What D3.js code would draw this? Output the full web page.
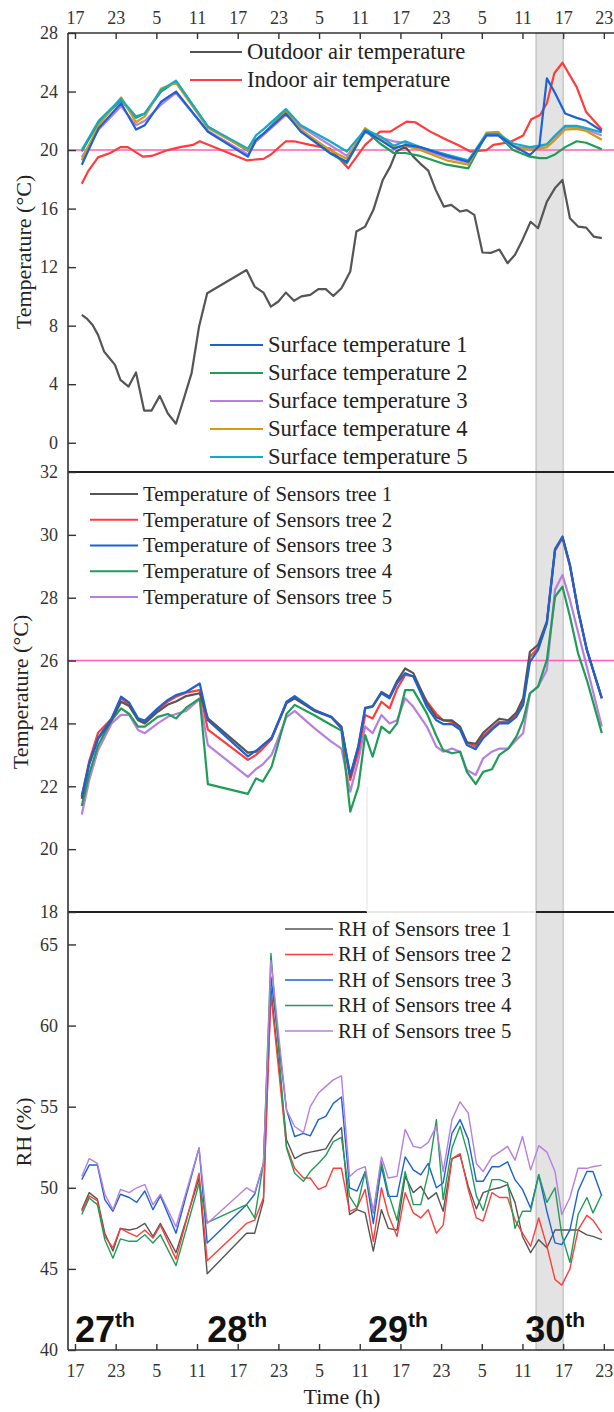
<!DOCTYPE html>
<html>
<head>
<meta charset="utf-8">
<script src="https://cdn.jsdelivr.net/npm/d3@7"></script>
<style>
  body { margin: 0; background: #fff; }
  svg { display: block; }
  text { font-family: "Liberation Serif", "Times New Roman", serif; fill: #222; }
  text.day { font-family: "Liberation Sans", Arial, sans-serif; font-weight: bold; fill: #111; }
</style>
</head>
<body>
<div id="plot"></div>
<script>
// time is counted in hours from 17:00 on the 27th
var hourTicks = [0, 6, 12, 18, 24, 30, 36, 42, 48, 54, 60, 66, 72, 78];
var hourLabels = ["17", "23", "5", "11", "17", "23", "5", "11", "17", "23", "5", "11", "17", "23"];
var shadeHours = [68, 72];
var dayHours = [0, 19.5, 43.2, 66.4];
var dayNames = ["27", "28", "29", "30"];

var tempTicks = [0, 4, 8, 12, 16, 20, 24, 28];
var treeTicks = [18, 20, 22, 24, 26, 28, 30, 32];
var rhTicks = [40, 45, 50, 55, 60, 65];
var airLimit = 20;
var treeLimit = 26;

// panel 1: air temperatures
var airNames = ["Outdoor air temperature", "Indoor air temperature"];
var outdoorHours = [1, 1.8, 2.6, 3.4, 4.3, 5.1, 5.9, 6.7, 7.9, 9, 10.2, 11.3, 12.5, 13.7, 14.9, 16, 17.2, 18.3, 19.5, 25.3,
  26.5, 27.8, 28.9, 30, 31.1, 32.3, 33.4, 34.7, 35.9, 37, 38.1, 39.3, 40.6, 41.5, 42.8, 44, 45.4, 46.5, 47.4, 48.7,
  49.9, 51.1, 52.1, 53.2, 54.4, 55.5, 56.8, 57.8, 58.9, 60.1, 61.3, 62.6, 63.8, 64.9, 66, 67.2, 68.3, 69.6, 70.8, 71.9,
  73, 74.2, 75.4, 76.5, 77.7];
var outdoor = [8.74, 8.46, 8.05, 7.37, 6.23, 5.77, 5.32, 4.3, 3.84, 4.8, 2.2, 2.2, 3.2, 2.0, 1.3, 2.93, 4.76, 7.94, 10.22, 11.8,
  10.67, 10.26, 9.3, 9.65, 10.26, 9.7, 10.0, 10.1, 10.5, 10.5, 10.03, 10.56, 11.7, 14.43, 14.77, 15.9, 17.96, 18.87, 19.9, 20.23,
  19.55, 19.0, 18.6, 17.28, 16.14, 16.25, 15.8, 15.9, 15.57, 13.0, 12.97, 13.2, 12.27, 12.84, 13.86, 15.1, 14.66, 16.48, 17.4, 17.96,
  15.34, 14.77, 14.7, 14.09, 13.98];
var indoorHours = [1, 2, 3.4, 5.2, 6.7, 7.8, 10, 11.3, 13.7, 15.5, 17.4, 18.4, 19.5, 25.3, 27.8, 28.9, 31.1, 32.3, 34.7, 37.6,
  40.3, 42.8, 45, 46.5, 48.9, 50.2, 52.4, 54.8, 56.5, 58.3, 60.7, 61.7, 64.2, 66.1, 67.3, 68.6, 69.6, 70.7, 71.9, 74,
  75.4, 77.7];
var indoor = [17.7, 18.6, 19.5, 19.8, 20.2, 20.2, 19.55, 19.6, 20.0, 20.2, 20.35, 20.6, 20.4, 19.3, 19.4, 19.7, 20.6, 20.6, 20.35, 20.1,
  18.75, 20.35, 21.26, 21.26, 21.94, 21.9, 21.26, 20.7, 20.35, 19.9, 20.0, 20.35, 20.55, 21.0, 22.1, 22.4, 23.2, 25.25, 25.97, 24.3,
  22.6, 21.4];

// panel 1: surface temperatures
var surfNames = ["Surface temperature 1", "Surface temperature 2", "Surface temperature 3", "Surface temperature 4", "Surface temperature 5"];
var surfHours = [1, 3.5, 6.8, 9, 10.3, 12.7, 14.9, 19.6, 25.5, 26.7, 28, 31.1, 33.3, 37.6, 40.1, 42.8, 45, 47, 48.7, 50.9,
  54.8, 58, 60.7, 62.4, 64.6, 67.1, 68.5, 69.6, 70.8, 72.3, 74, 75.4, 77.7];
var surf1 = [19.0, 21.5, 23.2, 21.4, 21.7, 23.3, 24.0, 21.25, 19.55, 20.7, 21.2, 22.5, 21.26, 19.8, 19.2, 21.3, 20.7, 20.1, 20.35, 20.2,
  19.6, 19.2, 21.0, 21.0, 20.3, 19.66, 20.3, 24.9, 23.9, 22.5, 22.2, 22.0, 21.3];
var surf2 = [19.9, 21.9, 23.4, 22.2, 22.5, 24.0, 24.7, 21.6, 19.95, 20.7, 21.2, 22.7, 21.4, 19.8, 19.1, 21.35, 20.45, 19.8, 19.8, 19.6,
  19.0, 18.75, 21.1, 21.05, 20.0, 19.55, 19.45, 19.45, 19.7, 20.2, 20.6, 20.5, 20.05];
var surf3 = [19.5, 21.4, 23.0, 21.7, 22.0, 23.1, 23.9, 21.3, 19.7, 20.6, 21.1, 22.4, 21.6, 20.35, 19.6, 21.2, 20.85, 20.6, 20.5, 20.1,
  19.5, 19.15, 21.0, 21.0, 20.25, 20.1, 20.2, 20.4, 20.9, 21.55, 21.55, 21.4, 21.0];
var surf4 = [19.3, 21.7, 23.6, 21.9, 22.3, 24.2, 24.6, 21.5, 20.0, 20.7, 21.2, 22.6, 21.4, 20.0, 19.4, 21.5, 20.75, 20.2, 20.3, 20.0,
  19.3, 19.0, 21.2, 21.25, 20.25, 20.0, 20.1, 20.2, 20.7, 21.4, 21.45, 21.3, 20.7];
var surf5 = [20.0, 22.0, 23.5, 22.3, 22.5, 24.1, 24.75, 21.6, 20.1, 21.0, 21.5, 22.8, 21.7, 20.6, 19.9, 21.4, 20.95, 20.3, 20.6, 20.2,
  19.7, 19.3, 21.1, 21.1, 20.45, 20.2, 20.3, 20.4, 21.0, 21.65, 21.65, 21.5, 21.2];

// panel 2: sensor tree temperatures
var treeNames = ["Temperature of Sensors tree 1", "Temperature of Sensors tree 2", "Temperature of Sensors tree 3",
  "Temperature of Sensors tree 4", "Temperature of Sensors tree 5"];
var treeHours = [1, 2.1, 3.4, 5.4, 6.8, 8.0, 9.3, 10.3, 12.2, 13.7, 14.9, 16.4, 18.4, 19.6, 25.5, 26.7, 27.7, 29, 31.2, 32.4,
  35.3, 37.8, 39.3, 40.6, 41.8, 42.8, 43.9, 45.2, 46.4, 47.5, 48.7, 49.9, 51.9, 53.3, 54.3, 55.6, 56.8, 57.8, 59.1, 60.2,
  61.5, 62.6, 63.9, 65.1, 66.1, 67.1, 68.3, 69.6, 70.8, 71.9, 73.0, 74.2, 75.5, 77.7];
var tree1 = [21.6, 22.7, 23.5, 24.1, 24.69, 24.55, 24.1, 24.0, 24.37, 24.6, 24.7, 24.87, 24.96, 24.16, 23.07, 23.1, 23.3, 23.55, 24.65, 24.8,
  24.4, 24.2, 23.9, 22.3, 23.3, 24.5, 24.55, 25.0, 24.85, 25.35, 25.75, 25.6, 24.65, 24.2, 24.1, 24.1, 23.9, 23.4, 23.35, 23.7,
  23.95, 24.15, 24.1, 24.35, 24.8, 26.28, 26.5, 27.25, 29.55, 29.94, 29.04, 27.6, 26.34, 24.8];
var tree2 = [21.65, 22.8, 23.7, 24.15, 24.8, 24.6, 24.15, 24.05, 24.42, 24.7, 24.85, 24.98, 25.06, 23.8, 22.84, 23.0, 23.2, 23.5, 24.65, 24.8,
  24.43, 24.2, 23.85, 22.2, 23.1, 24.27, 24.16, 24.69, 24.48, 25.1, 25.54, 25.5, 24.7, 24.3, 24.1, 24.05, 23.85, 23.39, 23.26, 23.6,
  23.85, 24.05, 24.05, 24.3, 24.65, 26.12, 26.4, 27.2, 29.5, 29.9, 29.0, 27.6, 26.34, 24.8];
var tree3 = [21.7, 22.73, 23.53, 24.16, 24.85, 24.66, 24.16, 24.09, 24.48, 24.75, 24.9, 25.0, 25.27, 24.1, 22.95, 23.13, 23.3, 23.53, 24.69, 24.87,
  24.43, 24.21, 23.85, 22.36, 23.26, 24.48, 24.53, 24.96, 24.8, 25.28, 25.6, 25.49, 24.53, 24.1, 23.98, 23.98, 23.8, 23.31, 23.18, 23.53,
  23.8, 24.0, 24.0, 24.21, 24.59, 25.96, 26.34, 27.19, 29.52, 29.94, 29.04, 27.6, 26.34, 24.8];
var tree4 = [21.37, 22.4, 23.3, 24.1, 24.48, 24.3, 23.9, 23.9, 24.21, 24.3, 24.16, 24.5, 24.8, 22.07, 21.76, 22.25, 22.15, 22.62, 24.3, 24.59,
  24.26, 23.95, 23.77, 21.19, 21.99, 23.63, 22.94, 23.9, 23.69, 24.0, 25.06, 25.06, 24.32, 23.6, 23.15, 23.05, 23.1, 22.46, 22.07, 22.46,
  22.54, 23.0, 23.2, 23.58, 24.1, 24.96, 25.17, 26.02, 28.03, 28.35, 27.4, 26.23, 25.38, 23.69];
var tree5 = [21.1, 22.2, 23.15, 24.0, 24.27, 24.27, 23.79, 23.69, 24.0, 24.21, 24.3, 24.4, 24.77, 23.31, 22.3, 22.55, 22.7, 23.0, 24.2, 24.4,
  23.85, 23.42, 23.2, 21.83, 22.84, 23.9, 23.69, 24.27, 24.0, 24.1, 24.8, 24.53, 23.9, 23.26, 23.1, 23.2, 23.1, 22.52, 22.36, 22.89,
  23.1, 23.2, 23.2, 23.47, 23.69, 24.96, 25.17, 25.7, 28.25, 28.72, 27.93, 26.9, 25.8, 23.9];

// panel 3: relative humidity
var rhNames = ["RH of Sensors tree 1", "RH of Sensors tree 2", "RH of Sensors tree 3", "RH of Sensors tree 4", "RH of Sensors tree 5"];
var rhHours = [1, 2.1, 3.3, 4.4, 5.6, 6.7, 8.0, 9.1, 10.3, 11.5, 12.6, 14.9, 18.3, 19.5, 25.3, 26.5, 27.8, 28.9, 31.2, 32.4,
  33.7, 34.7, 35.9, 37.0, 38.1, 39.3, 40.5, 41.6, 42.8, 44, 45.2, 46.2, 47.5, 48.7, 49.9, 51.0, 52.1, 53.3, 54.3, 55.6,
  56.8, 58, 59.2, 60.2, 61.5, 62.6, 63.8, 64.9, 66.0, 67.2, 68.4, 69.6, 70.8, 71.8, 73, 74.2, 75.5, 76.4, 77.7];
var rh1 = [48.65, 49.7, 49.3, 47.2, 46.1, 47.5, 47.4, 47.5, 47.8, 47.0, 47.8, 46.0, 50.6, 44.7, 47.2, 47.2, 49.2, 62.3, 52.96, 51.8,
  52.1, 52.2, 52.3, 52.4, 53.16, 53.7, 48.35, 48.65, 48.45, 46.1, 48.65, 47.5, 47.4, 50.7, 49.7, 50.1, 49.3, 49.7, 48.55, 51.8,
  52.0, 50.1, 48.7, 49.7, 49.9, 50.0, 50.2, 49.1, 47.0, 46.0, 46.8, 46.3, 47.4, 47.4, 47.4, 47.4, 47.1, 47.0, 46.8];
var rh2 = [48.55, 49.5, 49.2, 47.0, 46.3, 47.5, 47.2, 47.0, 47.4, 46.9, 47.7, 45.6, 50.9, 45.5, 47.8, 48.0, 49.37, 61.9, 52.55, 51.2,
  50.6, 50.6, 49.9, 50.1, 51.2, 51.2, 48.55, 48.75, 49.9, 46.7, 50.0, 48.35, 47.0, 49.7, 48.45, 48.14, 48.65, 47.2, 47.7, 51.8,
  52.1, 49.9, 48.14, 47.95, 49.7, 49.4, 49.4, 48.0, 47.2, 46.4, 48.14, 46.4, 44.35, 44.0, 45.0, 47.4, 48.3, 48.0, 47.2];
var rh3 = [50.5, 51.4, 51.4, 49.27, 48.55, 49.6, 49.4, 49.1, 49.8, 48.65, 49.5, 47.2, 52.45, 46.6, 48.96, 49.6, 51.5, 63.0, 54.8, 53.16,
  53.35, 53.2, 54.2, 54.4, 55.2, 55.6, 50.0, 49.8, 51.0, 47.8, 51.3, 49.47, 49.47, 51.9, 51.1, 50.8, 51.5, 50.0, 50.3, 53.35,
  54.2, 53.0, 50.4, 50.4, 51.3, 51.3, 51.6, 50.5, 49.9, 48.75, 50.8, 48.55, 46.6, 46.5, 47.4, 49.8, 51.0, 51.0, 49.5];
var rh4 = [48.35, 49.37, 48.96, 46.8, 45.66, 46.85, 46.7, 46.7, 47.1, 46.6, 47.1, 45.2, 50.26, 47.85, 48.96, 48.14, 51.5, 64.45, 52.45, 50.9,
  50.4, 51.0, 51.5, 52.0, 52.85, 53.1, 49.47, 48.75, 51.0, 48.45, 51.6, 49.7, 48.0, 51.0, 48.96, 48.96, 50.9, 54.2, 49.27, 52.45,
  53.8, 52.0, 49.5, 48.6, 50.5, 50.5, 50.3, 47.5, 48.55, 48.55, 50.8, 49.1, 50.0, 47.1, 45.4, 48.35, 49.4, 48.45, 49.6];
var rh5 = [50.7, 51.8, 51.5, 49.6, 48.65, 49.9, 49.7, 50.0, 50.2, 48.96, 49.6, 47.6, 52.45, 47.8, 50.0, 49.7, 51.5, 64.0, 54.8, 53.78,
  53.4, 55.0, 55.84, 56.25, 56.65, 56.9, 50.7, 51.1, 51.3, 48.55, 51.9, 50.6, 50.7, 53.6, 52.55, 52.45, 52.8, 53.8, 51.0, 54.2,
  55.3, 54.6, 51.5, 51.0, 51.9, 52.2, 52.55, 51.7, 53.16, 51.1, 52.6, 52.2, 51.0, 48.35, 49.4, 51.2, 51.2, 51.3, 51.4];

(function() {
  var width = 614;
  var height = 1412;

  var gray = "#555555", red = "#ff3c3c", blue = "#1b62d6", green = "#1f9d58",
      purple = "#b77fe0", orange = "#d39b12", cyan = "#14a9c7", pink = "#ff5fb4";

  var svg = d3.select("div#plot")
    .append("svg")
    .attr("width", width)
    .attr("height", height);

  var x = d3.scaleLinear().domain([-1.03, 79.5]).range([68, 614]);
  var y1 = d3.scaleLinear().domain([-2, 28]).range([472, 33]);
  var y2 = d3.scaleLinear().domain([18, 32]).range([912, 472]);
  var y3 = d3.scaleLinear().domain([40, 67]).range([1350, 912]);

  // grey band for the afternoon of the 30th
  svg.append("rect")
    .attr("x", x(shadeHours[0]))
    .attr("y", 33)
    .attr("width", x(shadeHours[1]) - x(shadeHours[0]))
    .attr("height", 1350 - 33)
    .attr("fill", "#e3e3e3")
    .attr("stroke", "#b4b4b4")
    .attr("stroke-width", 1);

  // comfort limits
  [[y1, airLimit], [y2, treeLimit]].forEach(function(p) {
    svg.append("line")
      .attr("x1", 68).attr("x2", width)
      .attr("y1", p[0](p[1])).attr("y2", p[0](p[1]))
      .attr("stroke", pink)
      .attr("stroke-width", 1.6);
  });

  function drawSeries(yScale, hours, values, color, w) {
    var line = d3.line()
      .x(function(d, i) { return x(hours[i]); })
      .y(function(d) { return yScale(d); });
    svg.append("path")
      .datum(values)
      .attr("d", line)
      .attr("fill", "none")
      .attr("stroke", color)
      .attr("stroke-width", w)
      .attr("stroke-linejoin", "round");
  }

  drawSeries(y1, outdoorHours, outdoor, gray, 2.2);
  drawSeries(y1, indoorHours, indoor, red, 2.2);
  var surfColors = [blue, green, purple, orange, cyan];
  // draw order: blue ends up on top like in the source figure
  [surf2, surf3, surf4, surf5, surf1].forEach(function(s, i) {
    drawSeries(y1, surfHours, s, [green, purple, orange, cyan, blue][i], 2.2);
  });

  var treeColors = [gray, red, blue, green, purple];
  [tree5, tree4, tree2, tree1, tree3].forEach(function(s, i) {
    drawSeries(y2, treeHours, s, [purple, green, red, gray, blue][i], 2.2);
  });

  [rh1, rh2, rh3, rh4, rh5].forEach(function(s, i) {
    drawSeries(y3, rhHours, s, treeColors[i], 1.4);
  });

  // frame lines
  function hline(yy, xa, xb, color, w) {
    svg.append("line").attr("x1", xa).attr("x2", xb).attr("y1", yy).attr("y2", yy)
      .attr("stroke", color).attr("stroke-width", w);
  }
  hline(33, 68, width, "#333", 1.6);
  hline(472, 68, width, "#222", 2);
  hline(912, 68, 367, "#222", 2);
  hline(912, 367, x(shadeHours[0]), "#cfcfcf", 1);
  hline(912, x(shadeHours[0]), width, "#222", 2);
  hline(1350, 68, width, "#333", 1.6);
  svg.append("line").attr("x1", 367).attr("x2", 367).attr("y1", 787).attr("y2", 912)
    .attr("stroke", "#e2e2e2").attr("stroke-width", 1);
  svg.append("line").attr("x1", 68).attr("x2", 68).attr("y1", 33).attr("y2", 1350)
    .attr("stroke", "#333").attr("stroke-width", 1.6);

  // time axes, top and bottom
  var topAxis = d3.axisTop(x)
    .tickValues(hourTicks)
    .tickFormat(function(d, i) { return hourLabels[i]; })
    .tickSizeInner(-6).tickSizeOuter(0).tickPadding(9);
  var gTop = svg.append("g").attr("transform", "translate(0,33)").call(topAxis);

  var bottomAxis = d3.axisBottom(x)
    .tickValues(hourTicks)
    .tickFormat(function(d, i) { return hourLabels[i]; })
    .tickSizeInner(-6).tickSizeOuter(0).tickPadding(14);
  var gBot = svg.append("g").attr("transform", "translate(0,1350)").call(bottomAxis);

  // value axes on the left
  var gA = svg.append("g").attr("transform", "translate(68,0)")
    .call(d3.axisLeft(y1).tickValues(tempTicks).tickSizeInner(-8).tickSizeOuter(0).tickPadding(10));
  var gB = svg.append("g").attr("transform", "translate(68,0)")
    .call(d3.axisLeft(y2).tickValues(treeTicks).tickSizeInner(-8).tickSizeOuter(0).tickPadding(10));
  var gC = svg.append("g").attr("transform", "translate(68,0)")
    .call(d3.axisLeft(y3).tickValues(rhTicks).tickSizeInner(-8).tickSizeOuter(0).tickPadding(10));

  [gTop, gBot, gA, gB, gC].forEach(function(g) {
    g.select(".domain").remove();
    g.selectAll(".tick line").attr("stroke", "#333").attr("stroke-width", 1.4);
    g.selectAll(".tick text")
      .style("font-size", "18px")
      .style("fill", "#333");
  });

  // axis titles
  function yTitle(label, cx, cy) {
    svg.append("text")
      .attr("transform", "translate(" + cx + "," + cy + ") rotate(-90)")
      .attr("text-anchor", "middle")
      .style("font-size", "22px")
      .text(label);
  }
  yTitle("Temperature (°C)", 31, 252);
  yTitle("Temperature (°C)", 28, 692);
  yTitle("RH (%)", 31, 1132);

  svg.append("text")
    .attr("x", 342).attr("y", 1404)
    .attr("text-anchor", "middle")
    .style("font-size", "22px")
    .text("Time (h)");

  // legends
  function drawLegend(names, colors, x0, y0, step, len, size, w) {
    var lg = svg.append("g").attr("transform", "translate(" + x0 + "," + y0 + ")");
    names.forEach(function(n, i) {
      lg.append("line")
        .attr("x1", 0).attr("x2", len)
        .attr("y1", i * step).attr("y2", i * step)
        .attr("stroke", colors[i])
        .attr("stroke-width", w);
      lg.append("text")
        .attr("x", len + 5)
        .attr("y", i * step)
        .attr("dy", "0.33em")
        .style("font-size", size + "px")
        .text(n);
    });
  }
  drawLegend(airNames, [gray, red], 190, 52, 28, 52, 22.6, 2.2);
  drawLegend(surfNames, surfColors, 210, 345, 28, 53, 22.6, 2.2);
  drawLegend(treeNames, treeColors, 90, 494, 25.75, 48, 20.8, 2.2);
  drawLegend(rhNames, treeColors, 285, 929, 25.5, 48, 20.8, 1.4);

  // day labels
  dayHours.forEach(function(h, i) {
    var t = svg.append("text")
      .attr("class", "day")
      .attr("x", x(h))
      .attr("y", 1342)
      .style("font-size", "36px");
    t.append("tspan").text(dayNames[i]);
    t.append("tspan").attr("dy", -15).style("font-size", "21px").text("th");
  });
})();
</script>
</body>
</html>
